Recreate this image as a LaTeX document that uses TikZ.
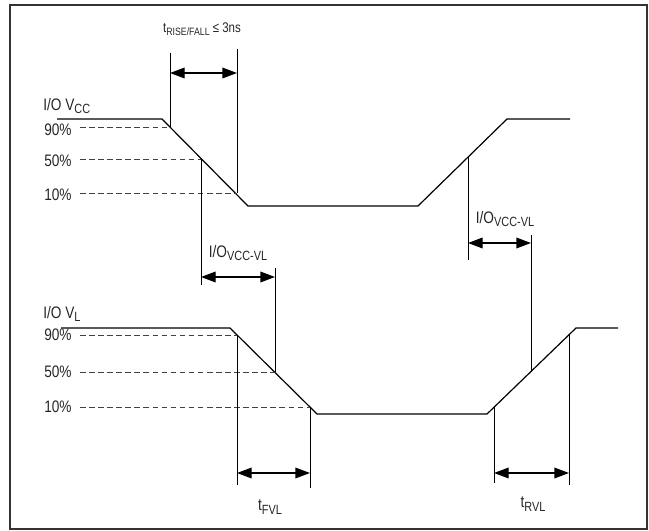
\documentclass[tikz,border=0pt]{standalone}
\usepackage{fontspec}
\setmainfont[FakeStretch=0.82]{Liberation Sans}
\usetikzlibrary{arrows.meta}
\newcommand{\lowtxt}[1]{\raisebox{-0.4ex}{\fontsize{10}{10}\selectfont #1}}
\newcommand{\lowsmall}[1]{\raisebox{-0.4ex}{\fontsize{8}{8}\selectfont #1}}

\begin{document}
\begin{tikzpicture}[x=0.75pt,y=-0.75pt,
  lbl/.style={inner sep=0pt,text=black!85,font=\fontsize{12.5}{12.5}\selectfont},
  wave/.style={line width=0.9pt},
  level/.style={dash pattern=on 4.2pt off 2.6pt,line width=0.6pt,black!75},
  tick/.style={line width=0.75pt},
  span/.style={{Triangle[length=11pt,width=8pt]}-{Triangle[length=11pt,width=8pt]},line width=1pt}]
\useasboundingbox (0,0) rectangle (649,531);
\draw[line width=1.3pt,black!80] (10,5) rectangle (647,529);

% I/O VCC waveform
\coordinate (c1) at (57,119);
\coordinate (c2) at (162,119);
\coordinate (c3) at (248,206);
\coordinate (c4) at (418,206);
\coordinate (c5) at (507,119);
\coordinate (c6) at (570,119);
\draw[wave] (c1) -- (c2) -- (c3) -- (c4) -- (c5) -- (c6);
\coordinate (c90) at (170,127);
\coordinate (c50) at (201,159);
\coordinate (c10) at (237,193);
\coordinate (cr50) at (468,157);

% I/O VL waveform
\coordinate (l1) at (61,328);
\coordinate (l2) at (230,328);
\coordinate (l3) at (317,414);
\coordinate (l4) at (487,414);
\coordinate (l5) at (576,328);
\coordinate (l6) at (618,328);
\draw[wave] (l1) -- (l2) -- (l3) -- (l4) -- (l5) -- (l6);
\coordinate (l90) at (237,335);
\coordinate (l50) at (275,372);
\coordinate (l10) at (310,407);
\coordinate (lr10) at (494,407);
\coordinate (lr50) at (531,372);
\coordinate (lr90) at (569,335);

% labels
\node[lbl,anchor=west] (vcc) at (43,106) {I/O V\lowtxt{CC}};
\node[lbl,anchor=west] (p90a) at (44,130) {90\%};
\node[lbl,anchor=west] (p50a) at (44,161) {50\%};
\node[lbl,anchor=west] (p10a) at (44,195) {10\%};
\node[lbl,anchor=west] (vl) at (43,314) {I/O V\lowtxt{L}};
\node[lbl,anchor=west] (p90b) at (44,335) {90\%};
\node[lbl,anchor=west] (p50b) at (44,372) {50\%};
\node[lbl,anchor=west] (p10b) at (44,407) {10\%};
\node[lbl,font=\fontsize{10.5}{10.5}\selectfont] (trf) at (202,29) {t\lowsmall{RISE/FALL} ≤ 3ns};
\node[lbl] (dly1) at (238,253) {I/O\lowtxt{VCC-VL}};
\node[lbl] (dly2) at (505,219) {I/O\lowtxt{VCC-VL}};
\node[lbl] (tfvl) at (270,507) {t\lowtxt{FVL}};
\node[lbl] (trvl) at (533,504) {t\lowtxt{RVL}};

% threshold levels
\draw[level] (80,127) -- (c90);
\draw[level] (80,159) -- (c50);
\draw[level] (80,193) -- (c10);
\draw[level] (80,335) -- (l90);
\draw[level] (80,372) -- (l50);
\draw[level] (80,407) -- (l10);

% rise/fall time
\coordinate (t1) at (170,53);
\coordinate (t2) at (237,49);
\draw[tick] (t1) -- (c90) (t2) -- (c10);
\draw[span] (170,73) -- (237,73);

% VCC to VL delay, falling
\coordinate (d1) at (201,285);
\coordinate (d2) at (275,268);
\draw[tick] (c50) -- (d1) (d2) -- (l50);
\draw[span] (201,277) -- (275,277);

% VCC to VL delay, rising
\coordinate (d3) at (468,260);
\coordinate (d4) at (531,235);
\draw[tick] (cr50) -- (d3) (d4) -- (lr50);
\draw[span] (468,243) -- (531,243);

% tFVL
\coordinate (f1) at (237,485);
\coordinate (f2) at (310,488);
\draw[tick] (l90) -- (f1) (l10) -- (f2);
\draw[span] (237,473) -- (310,473);

% tRVL
\coordinate (r1) at (494,483);
\coordinate (r2) at (569,485);
\draw[tick] (lr10) -- (r1) (lr90) -- (r2);
\draw[span] (494,473) -- (569,473);
\end{tikzpicture}
\end{document}
